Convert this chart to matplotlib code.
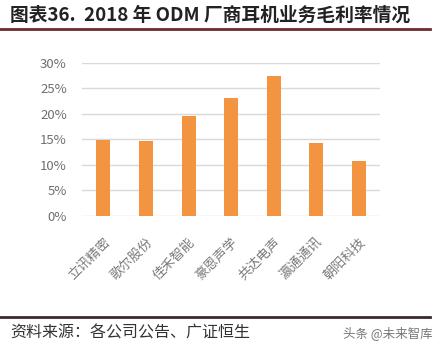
import matplotlib.pyplot as plt
from matplotlib.ticker import FuncFormatter
from matplotlib.lines import Line2D

plt.rcParams['font.family'] = ['Noto Sans CJK SC', 'DejaVu Sans']

# 数据
厂商 = ['立讯精密', '歌尔股份', '佳禾智能', '豪恩声学', '共达电声', '瀛通通讯', '朝阳科技']
毛利率 = [0.149, 0.147, 0.196, 0.232, 0.275, 0.143, 0.108]
刻度 = [0, 0.05, 0.10, 0.15, 0.20, 0.25, 0.30]

fig = plt.figure(figsize=(4.44, 3.51), dpi=100)
ax = fig.add_axes([0.185, 0.385, 0.671, 0.436])

ax.bar(厂商, 毛利率, width=0.33, color='#F29440', zorder=3)
ax.set_ylim(0, 0.30)
ax.set_xlim(-0.5, len(厂商) - 0.5)
ax.set_yticks(刻度)
ax.yaxis.set_major_formatter(FuncFormatter(lambda v, p: f'{v*100:.0f}%'))
ax.grid(axis='y', color='#d9d9d9', linewidth=1, zorder=0)
for s in ax.spines.values():
    s.set_visible(False)
ax.tick_params(length=0, colors='#6f6f6f', labelsize=9.5)
ax.tick_params(axis='y', pad=11)
ax.tick_params(axis='x', pad=14)
plt.setp(ax.get_xticklabels(), rotation=45, ha='right', rotation_mode='anchor',
         fontsize=9.5, color='#7a7a7a')

# 标题与来源
fig.text(0.022, 0.957, '图表36.  2018 年 ODM 厂商耳机业务毛利率情况',
         fontsize=13.5, fontweight='bold', color='#222222', va='center')
fig.add_artist(Line2D([0.0, 0.968], [0.918, 0.918], color='#6b2a2e', linewidth=2))
fig.add_artist(Line2D([0.0, 0.968], [0.098, 0.098], color='#3a2a2a', linewidth=2))
fig.text(0.022, 0.05, '资料来源：各公司公告、广证恒生', fontsize=11.5,
         color='#333333', va='center')
fig.text(0.975, 0.05, '头条 @未来智库', fontsize=9, color='#777777',
         va='center', ha='right')

plt.savefig('out.png', dpi=100)
